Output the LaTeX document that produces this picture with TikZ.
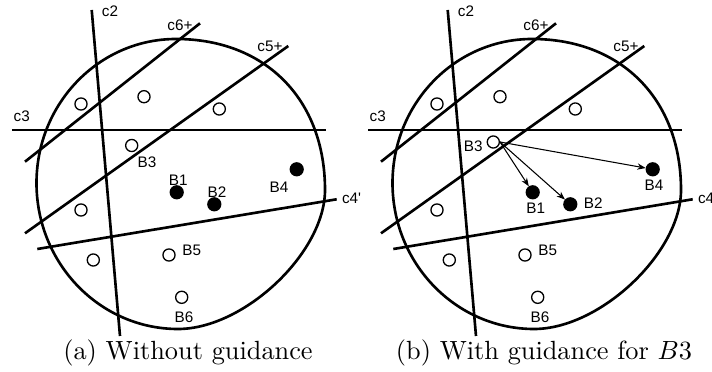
\documentclass[tikz,border=0pt]{standalone}
\usepackage{fontspec}
\newfontfamily\labfont{Liberation Sans}
\usetikzlibrary{arrows.meta}
\tikzset{
  cutline/.style={line width=1pt},
  region/.style={line width=1pt},
  ball/.style={circle,draw,line width=0.5pt,inner sep=0pt,minimum size=4.6pt},
  fullball/.style={ball,fill=black,minimum size=4.9pt},
  lab/.style={font=\labfont\fontsize{5.8}{6}\selectfont,inner sep=0pt},
  guide/.style={line width=0.4pt,-{Stealth[length=3.2pt,width=2.4pt]}},
  captext/.style={anchor=base,inner sep=0pt}
}
\newcommand{\drawbase}[1]{%
  \draw[region] (176,39) .. controls (265.4,39) and (325,99.4) .. (325,190)
     .. controls (325,252.6) and (244.2,329) .. (178,329)
     .. controls (99.9,329) and (36.5,263.6) .. (36.5,183)
     .. controls (36.5,103.5) and (99,39) .. cycle;
  \coordinate (#1c2a) at (91.7,10);  \coordinate (#1c2b) at (120,336);
  \coordinate (#1c6a) at (25,161.7); \coordinate (#1c6b) at (200,23.3);
  \coordinate (#1c5a) at (25,233.3); \coordinate (#1c5b) at (288.3,46);
  \coordinate (#1c3a) at (12.3,130); \coordinate (#1c3b) at (326,130);
  \coordinate (#1c4a) at (37.3,249); \coordinate (#1c4b) at (336.7,199.3);
  \draw[cutline] (#1c2a) -- (#1c2b);
  \draw[cutline] (#1c6a) -- (#1c6b);
  \draw[cutline] (#1c5a) -- (#1c5b);
  \draw[cutline] (#1c3a) -- (#1c3b);
  \draw[cutline] (#1c4a) -- (#1c4b);
  \node[lab] (#1lc2) at (110,11.7) {c2};
  \node[lab] (#1lc6) at (180,25) {c6+};
  \node[lab] (#1lc5) at (270,46.7) {c5+};
  \node[lab] (#1lc3) at (21.7,116) {c3};
  \node[ball] (#1o1) at (81,104) {};
  \node[ball] (#1o2) at (144,96.7) {};
  \node[ball] (#1o3) at (219.3,109) {};
  \node[ball] (#1o4) at (81,210) {};
  \node[ball] (#1o5) at (93.3,260) {};
  \node[ball] (#1B5) at (169,255) {};
  \node[ball] (#1B6) at (181.7,297.3) {};
  \node[fullball] (#1B1) at (176.7,192.3) {};
  \node[fullball] (#1B2) at (214.3,204.3) {};
  \node[fullball] (#1B4) at (296.7,169.3) {};
  \node[lab] (#1lB5) at (191.7,250.7) {B5};
  \node[lab] (#1lB6) at (184,317.3) {B6};
}
\begin{document}
\begin{tikzpicture}[x=0.38pt,y=-0.38pt]
\useasboundingbox (0,0) rectangle (712,372);
% panel (a)
\begin{scope}
  \drawbase{a}
  \node[ball] (aB3) at (131.7,145.5) {};
  \node[lab] (alB3) at (147,162) {B3};
  \node[lab] (alB1) at (178.3,180) {B1};
  \node[lab] (alB2) at (217,192) {B2};
  \node[lab] (alB4) at (279,187.3) {B4};
  \node[lab,anchor=west] (alc4) at (341.5,198.5) {c4'};
  \node[captext] (acap) at (188,360) {(a) Without guidance};
\end{scope}
% panel (b)
\begin{scope}[shift={(356,0)}]
  \drawbase{b}
  \node[ball] (bB3) at (137.3,142) {};
  \node[lab] (blB3) at (117.2,146.3) {B3};
  \node[lab] (blB1) at (179.7,208.3) {B1};
  \node[lab] (blB2) at (237.3,202.7) {B2};
  \node[lab] (blB4) at (298,185.7) {B4};
  \node[lab,anchor=west] (blc4) at (341.5,198.5) {c4};
  \draw[guide] (bB3.east) -- (bB1);
  \draw[guide] (bB3.east) -- (bB2);
  \draw[guide] (bB3.east) -- (bB4);
  \node[captext] (bcap) at (188,360) {(b) With guidance for $B3$};
\end{scope}
\end{tikzpicture}
\end{document}
